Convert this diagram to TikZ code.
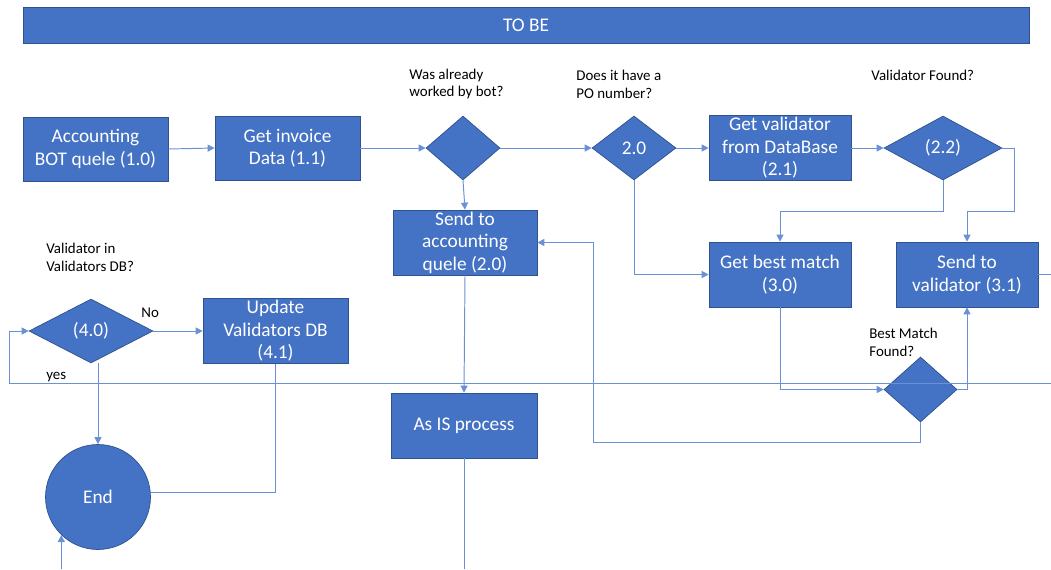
\documentclass[tikz,border=0pt]{standalone}
\usepackage{fontspec}
\setmainfont{Carlito}
\usetikzlibrary{shapes.geometric,arrows.meta}
\definecolor{boxblue}{HTML}{4472C4}
\definecolor{boxedge}{HTML}{2F528F}
\definecolor{wire}{HTML}{6A90D6}
\tikzset{
  box/.style={draw=boxedge, fill=boxblue, text=white, align=center, inner sep=1pt,
    minimum width=2.9cm, minimum height=1.28cm, font=\fontsize{11}{12.8}\selectfont},
  ask/.style={diamond, draw=boxedge, fill=boxblue, text=white, inner sep=0pt,
    minimum height=1.28cm, font=\fontsize{11}{12.8}\selectfont},
  note/.style={anchor=west, align=left, inner sep=0pt, font=\fontsize{8.5}{10.2}\selectfont},
  wire/.style={draw=wire, line width=0.55pt}
}
\begin{document}
\begin{tikzpicture}[x=0.02cm, y=-0.02cm, >={Triangle[length=4pt,width=4pt]}]
        \useasboundingbox (0,0) rectangle (1051,569);
        \coordinate (split) at (0,211);
        \coordinate (rside) at (1014,0);
        \coordinate (lside) at (9,0);
        \coordinate (loop) at (593,442);
        \coordinate (back) at (1051,383);
        \coordinate (rightedge) at (1051,0);
        \coordinate (bottomedge) at (0,569);
        \node[box, minimum width=20.12cm, minimum height=0.72cm, font=\fontsize{11}{13}\selectfont] (bar) at (526,25) {TO BE};
        \node[box] (bot) at (95.5,149) {Accounting\\BOT quele (1.0)};
        \node[box] (inv) at (287.5,148) {Get invoice\\Data (1.1)};
        \node[ask, minimum width=1.48cm] (worked) at (463,148) {};
        \node[ask, minimum width=1.68cm] (ponum) at (634,148) {2.0};
        \node[box, minimum width=2.84cm] (getval) at (780,148) {Get validator\\from DataBase\\(2.1)};
        \node[ask, minimum width=2.36cm] (found) at (943,148) {(2.2)};
        \node[box, minimum height=1.3cm, minimum width=2.88cm] (sendacc) at (465,242.5) {Send to\\accounting\\quele (2.0)};
        \node[box, minimum height=1.3cm, minimum width=2.84cm] (best) at (780,274.5) {Get best match\\(3.0)};
        \node[box, minimum height=1.3cm, minimum width=2.84cm] (sendval) at (967,274.5) {Send to\\validator (3.1)};
        \node[ask, minimum width=1.46cm, minimum height=1.3cm] (bestfound) at (920.5,389.5) {};
        \node[box, minimum height=1.3cm, minimum width=2.92cm] (asis) at (464,425.5) {As IS process};
        \node[ask, minimum width=2.48cm] (indb) at (91,331) {(4.0)};
        \node[box] (upd) at (275.5,331) {Update\\Validators DB\\(4.1)};
        \node[circle, draw=boxedge, fill=boxblue, text=white, minimum size=2.1cm,
          font=\fontsize{11}{12.8}\selectfont] (endn) at (98,497) {End};
        % questions and answers
        \node[note] (qworked) at (409,84) {Was already\\worked by bot?};
        \node[note] (qponum) at (576,84) {Does it have a\\PO number?};
        \node[note] (qfound) at (871,75) {Validator Found?};
        \node[note] (qindb) at (46,257) {Validator in\\Validators DB?};
        \node[note] (qbest) at (869,342) {Best Match\\Found?};
        \node[note] (no) at (141,313) {No};
        \node[note] (yes) at (46,377) {yes};
        % connectors
        \draw[wire, ->] (bot.east) -- (inv.west);
        \draw[wire, ->] (inv.east) -- (worked.west);
        \draw[wire, ->] (worked.east) -- (ponum.west);
        \draw[wire, ->] (worked.south) -- (sendacc.north);
        \draw[wire, ->] (ponum.east) -- (getval.west);
        \draw[wire, ->] (ponum.south) |- (best.west);
        \draw[wire, ->] (getval.east) -- (found.west);
        \draw[wire, ->] (found.south) -- (found.south |- split) -| (best.north);
        \draw[wire, ->] (found.east) -| (rside |- split) -| (sendval.north);
        \draw[wire, ->] (best.south) |- (bestfound.west);
        \draw[wire, ->] (bestfound.east) -| (sendval.south);
        \draw[wire, ->] (bestfound.south) |- (loop) |- (sendacc.east);
        \draw[wire, ->] (sendacc.south) -- (asis.north);
        \draw[wire] (asis.south) -- (asis.south |- bottomedge);
        \draw[wire] (sendval.east) -- (sendval.east -| rightedge);
        \draw[wire, ->] (back) -| (lside |- indb.west) -- (indb.west);
        \draw[wire, ->] (indb.east) -- (upd.west);
        \draw[wire, ->] (endn.north |- indb.south) -- (endn.north);
        \draw[wire] (upd.south) |- ([yshift=0.1cm]endn.east);
        \draw[wire, ->] (endn.226 |- bottomedge) -- (endn.226);
    \end{tikzpicture}
\end{document}
